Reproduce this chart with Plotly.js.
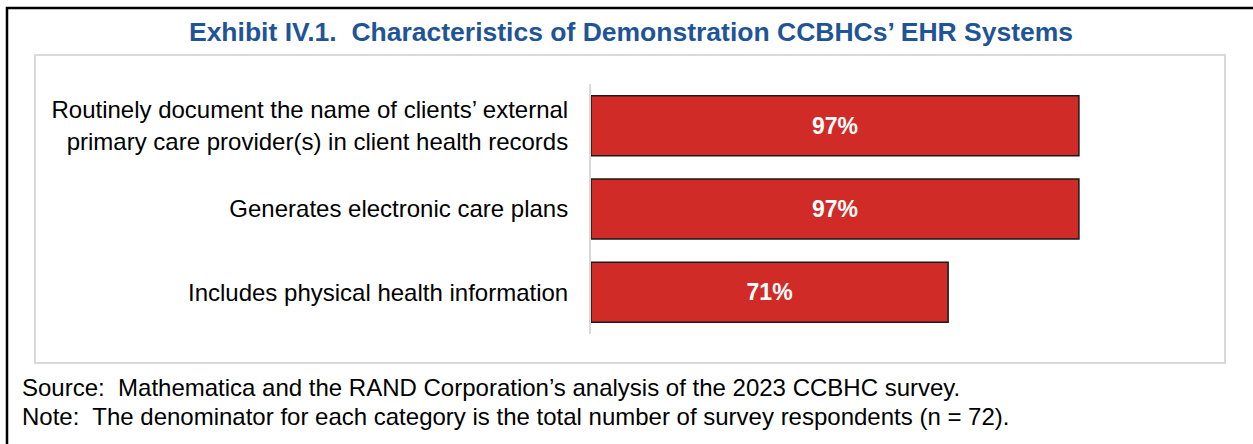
<!DOCTYPE html>
<html>
<head>
<meta charset="utf-8">
<script src="https://cdn.plot.ly/plotly-3.0.1.min.js"></script>
<style>
html,body{margin:0;padding:0;background:#fff;}
#chart{width:1253px;height:444px;}
</style>
</head>
<body>
<div id="chart"></div>
<script>
// Data
const categories = [
  "Routinely document the name of clients’ external<br>primary care provider(s) in client health records",
  "Generates electronic care plans",
  "Includes physical health information"
];
const values = [97, 97, 71];
const valueLabels = ["97%", "97%", "71%"];

const titleText = "Exhibit IV.1.  Characteristics of Demonstration CCBHCs’ EHR Systems";
const sourceText = "Source:  Mathematica and the RAND Corporation’s analysis of the 2023 CCBHC survey.";
const noteText = "Note:  The denominator for each category is the total number of survey respondents (n = 72).";

// Layout geometry (pixels)
const W = 1253, H = 444;
const mL = 591, mR = 159, mT = 84, mB = 110;
const pw = W - mL - mR, ph = H - mT - mB;
const px = p => (p - mL) / pw;
const py = p => (H - mB - p) / ph;

const FONT = "Liberation Sans, Arial, sans-serif";

const trace = {
  type: "bar",
  orientation: "h",
  y: categories,
  x: values,
  text: valueLabels,
  textposition: "inside",
  insidetextanchor: "middle",
  textangle: 0,
  textfont: {family: FONT, size: 23, color: "#ffffff", weight: "bold"},
  marker: {color: "#d02b27", line: {color: "#1a1a1a", width: 1.5}},
  width: 0.72,
  hoverinfo: "skip",
  cliponaxis: false
};

const layout = {
  width: W, height: H,
  margin: {l: mL, r: mR, t: mT, b: mB, pad: 0},
  paper_bgcolor: "#ffffff",
  plot_bgcolor: "#ffffff",
  showlegend: false,
  title: {
    text: "<b>" + titleText + "</b>",
    font: {family: FONT, size: 26.5, color: "#1f5597"},
    x: 631 / W, xref: "container", xanchor: "center",
    y: 1 - 32 / H, yref: "container", yanchor: "middle"
  },
  xaxis: {
    range: [0, 100], visible: false, fixedrange: true
  },
  yaxis: {
    autorange: "reversed",
    showline: true, linecolor: "#d9d9d9", linewidth: 2,
    showgrid: false, zeroline: false, ticks: "",
    ticklabelstandoff: 16,
    tickfont: {family: FONT, size: 24, color: "#000000"},
    fixedrange: true
  },
  shapes: [
    {type: "rect", xref: "paper", yref: "paper",
     x0: px(7), x1: px(1270), y0: py(8), y1: py(470),
     line: {color: "#000000", width: 2.5}, fillcolor: "rgba(0,0,0,0)", layer: "below"},
    {type: "rect", xref: "paper", yref: "paper",
     x0: px(35), x1: px(1225), y0: py(55), y1: py(363),
     line: {color: "#d9d9d9", width: 2}, fillcolor: "rgba(0,0,0,0)", layer: "below"}
  ],
  annotations: [
    {text: sourceText, xref: "paper", yref: "paper", x: px(20), y: py(387),
     xanchor: "left", yanchor: "middle", showarrow: false,
     font: {family: FONT, size: 24, color: "#000000"}},
    {text: noteText, xref: "paper", yref: "paper", x: px(20), y: py(416),
     xanchor: "left", yanchor: "middle", showarrow: false,
     font: {family: FONT, size: 24, color: "#000000"}}
  ]
};

Plotly.newPlot("chart", [trace], layout, {displayModeBar: false, staticPlot: true});
</script>
</body>
</html>
